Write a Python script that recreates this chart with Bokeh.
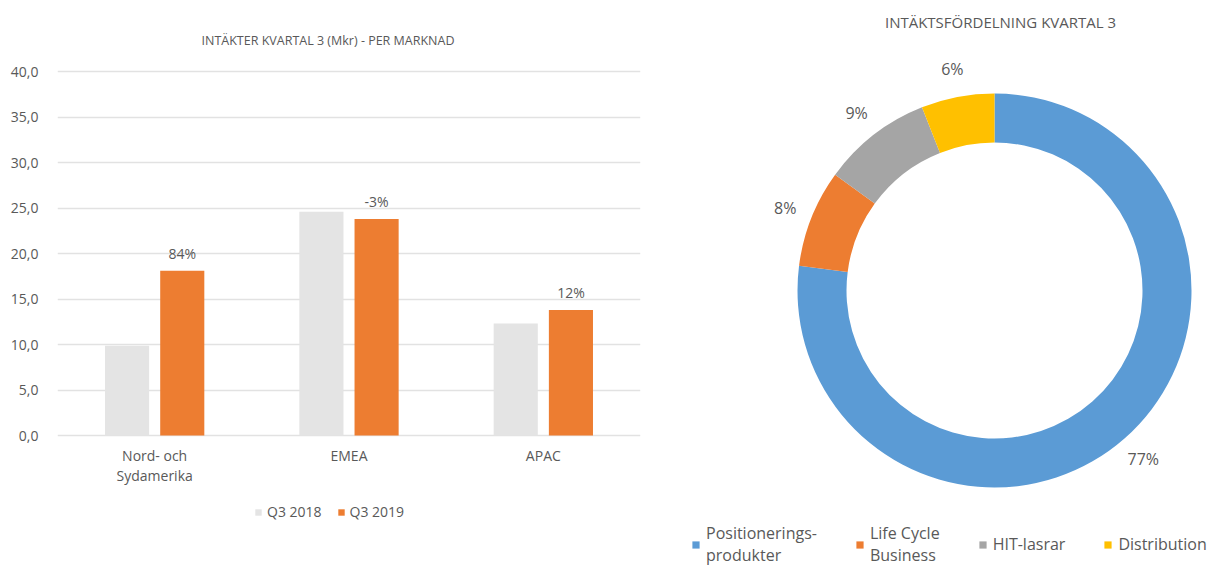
import math
from bokeh.plotting import figure
from bokeh.models import (FactorRange, Range1d, ColumnDataSource, Legend, LegendItem, Label,
                          FixedTicker, CustomJSTickFormatter)
from bokeh.layouts import row
from bokeh.transform import dodge
from bokeh.core.properties import value
from bokeh.embed import file_html
from bokeh.resources import INLINE

# ---------------- data ----------------
markets = ["Nord- och\nSydamerika", "EMEA", "APAC"]
q3_2018 = [9.85, 24.6, 12.3]
q3_2019 = [18.1, 23.8, 13.8]
growth_labels = ["84%", "-3%", "12%"]
y_ticks = [0, 5, 10, 15, 20, 25, 30, 35, 40]

segments = ["Positionerings-\nprodukter", "Life Cycle\nBusiness", "HIT-lasrar", "Distribution"]
shares = [77, 8, 9, 6]
share_labels = ["77%", "8%", "9%", "6%"]
share_colors = ["#5B9BD5", "#ED7D31", "#A5A5A5", "#FFC000"]

FONT_NAME = "Open Sans"
FONT = value(FONT_NAME)
TXT = "#595959"

# ---------------- layout geometry (pixels) ----------------
H = 565
W1, W2 = 650, 569
FRAME_TOP, FRAME_BOTTOM = 71, 435          # pixel rows of 40,0 and 0,0
YMAX = 40.0
ppu = (FRAME_BOTTOM - FRAME_TOP) / YMAX    # pixels per unit
y_lo = -(H - FRAME_BOTTOM) / ppu
y_hi = YMAX + FRAME_TOP / ppu

# ---------------- bar chart ----------------
src = ColumnDataSource(dict(market=markets, q2018=q3_2018, q2019=q3_2019, growth=growth_labels))

p1 = figure(width=W1, height=H, x_range=FactorRange(factors=markets, range_padding=0),
            y_range=Range1d(y_lo, y_hi), x_axis_location=None,
            output_backend="svg", toolbar_location=None,
            min_border_left=57, min_border_right=10, min_border_top=0, min_border_bottom=0)
p1.outline_line_color = None
p1.xgrid.visible = False

r1 = p1.vbar(x=dodge("market", -0.142, range=p1.x_range), top="q2018", width=0.227,
             source=src, fill_color="#E4E4E4", line_color=None)
r2 = p1.vbar(x=dodge("market", 0.142, range=p1.x_range), top="q2019", width=0.227,
             source=src, fill_color="#ED7D31", line_color=None)
p1.text(x=dodge("market", 0.142, range=p1.x_range), y="q2019", text="growth", source=src,
        text_align="center", text_baseline="bottom", y_offset=-8,
        text_font=FONT, text_font_size="14px", text_color=TXT)
# category labels under the zero line
p1.text(x="market", y=0, text="market", source=src, text_align="center", text_baseline="top",
        y_offset=10, text_font=FONT, text_font_size="14px", text_color=TXT,
        text_line_height=1.1)

p1.ygrid.grid_line_color = "#E2E2E2"
p1.ygrid.grid_line_width = 1.5
p1.yaxis.ticker = FixedTicker(ticks=y_ticks)
p1.yaxis.formatter = CustomJSTickFormatter(code="return tick.toFixed(1).replace('.', ',');")
p1.yaxis.axis_line_color = None
p1.yaxis.major_tick_line_color = None
p1.yaxis.minor_tick_line_color = None
p1.yaxis.major_label_standoff = 13
p1.yaxis.major_label_text_font = FONT_NAME
p1.yaxis.major_label_text_font_size = "14px"
p1.yaxis.major_label_text_color = TXT

p1.add_layout(Label(x=1.5, y=YMAX + (FRAME_TOP - 40) / ppu, x_offset=-21,
                    text="INTÄKTER KVARTAL 3 (Mkr) - PER MARKNAD", text_align="center",
                    text_baseline="middle", text_font=FONT_NAME, text_font_size="12.5px",
                    text_color=TXT))

leg1 = Legend(items=[LegendItem(label="Q3 2018", renderers=[r1]),
                     LegendItem(label="Q3 2019", renderers=[r2])],
              orientation="horizontal", location=(197, 44), padding=0, margin=0, spacing=15,
              glyph_width=8, glyph_height=8, label_standoff=5,
              label_text_font=FONT_NAME, label_text_font_size="14px", label_text_color=TXT,
              border_line_color=None, background_fill_alpha=0)
p1.add_layout(leg1)

# ---------------- doughnut ----------------
CX, CY = 344, 290          # centre of the ring inside the right figure (pixels)
total = float(sum(shares))
starts, ends, lx, ly = [], [], [], []
cum = 0.0
for s in shares:
    a0 = math.pi / 2 - 2 * math.pi * (cum + s) / total
    a1 = math.pi / 2 - 2 * math.pi * cum / total
    mid = (a0 + a1) / 2
    starts.append(a0)
    ends.append(a1)
    lx.append(225 * math.cos(mid))
    ly.append(225 * math.sin(mid))
    cum += s
dsrc = ColumnDataSource(dict(seg=segments, share=shares, start=starts, end=ends,
                             color=share_colors, lab=share_labels, lx=lx, ly=ly))

p2 = figure(width=W2, height=H, x_range=Range1d(-CX, W2 - CX), y_range=Range1d(CY - H, CY),
            x_axis_location=None, y_axis_location=None,
            output_backend="svg", toolbar_location=None,
            min_border_left=0, min_border_right=0, min_border_top=0, min_border_bottom=0)
p2.grid.visible = False
p2.outline_line_color = None

rw = p2.annular_wedge(x=0, y=0, inner_radius=148, outer_radius=197, start_angle="start",
                      end_angle="end", fill_color="color", line_color=None, source=dsrc)
p2.text(x="lx", y="ly", text="lab", source=dsrc, text_align="center", text_baseline="middle",
        text_font=FONT, text_font_size="16px", text_color=TXT)

p2.add_layout(Label(x=1000 - W1 - CX, y=CY - 21, text="INTÄKTSFÖRDELNING KVARTAL 3",
                    text_align="center", text_baseline="middle", text_font=FONT_NAME,
                    text_font_size="15px", text_color=TXT))

leg2 = Legend(items=[LegendItem(label=segments[i], renderers=[rw], index=i) for i in range(4)],
              orientation="horizontal", location=(41, -1), padding=0, margin=0, spacing=38,
              glyph_width=9, glyph_height=9, label_standoff=6,
              label_text_font=FONT_NAME, label_text_font_size="16px", label_text_color=TXT,
              border_line_color=None, background_fill_alpha=0)
p2.add_layout(leg2)

layout = row(p1, p2)
open("out.html", "w").write(file_html(layout, INLINE))
